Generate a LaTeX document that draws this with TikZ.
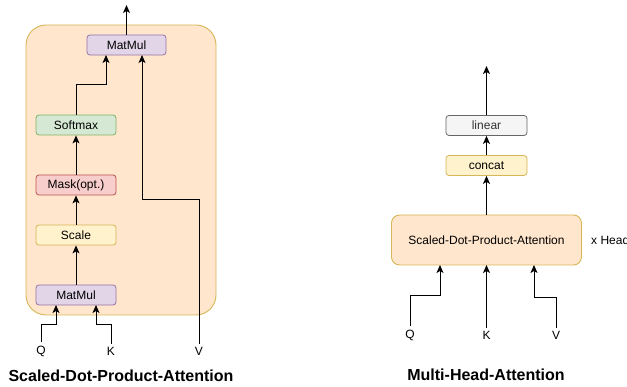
\documentclass[tikz,border=0pt]{standalone}
\usepackage{fontspec}
\setmainfont{Liberation Sans}
\usetikzlibrary{arrows.meta}

\definecolor{purpleFill}{HTML}{E1D5E7}
\definecolor{purpleLine}{HTML}{9673A6}
\definecolor{greenFill}{HTML}{D5E8D4}
\definecolor{greenLine}{HTML}{82B366}
\definecolor{redFill}{HTML}{F8CECC}
\definecolor{redLine}{HTML}{B85450}
\definecolor{yellowFill}{HTML}{FFF2CC}
\definecolor{yellowLine}{HTML}{D6B656}
\definecolor{orangeFill}{HTML}{FFE6CC}
\definecolor{orangeLine}{HTML}{D79B00}
\definecolor{grayFill}{HTML}{F5F5F5}
\definecolor{grayLine}{HTML}{666666}
\definecolor{grayText}{HTML}{333333}

\tikzset{
  opbox/.style={draw, rounded corners=3pt, line width=0.8pt,
    minimum width=80pt, minimum height=20pt, inner sep=0pt,
    font=\fontsize{12}{14}\selectfont},
  matmulbox/.style={opbox, fill=purpleFill, draw=purpleLine},
  softbox/.style={opbox, fill=greenFill, draw=greenLine},
  maskbox/.style={opbox, fill=redFill, draw=redLine},
  scalebox/.style={opbox, fill=yellowFill, draw=yellowLine},
  linbox/.style={opbox, fill=grayFill, draw=grayLine, text=grayText},
  lbl/.style={font=\fontsize{12}{14}\selectfont, inner sep=0pt},
  ttl/.style={font=\fontsize{16}{18}\selectfont\bfseries, inner sep=0pt},
  flow/.style={line width=1pt, -{Stealth[length=8pt,width=7pt,inset=2pt]}},
}

\begin{document}
\begin{tikzpicture}[x=1pt,y=-1pt]
\useasboundingbox (0,0) rectangle (627,387);

% ---- Scaled-Dot-Product-Attention ----
\node[draw=yellowLine, fill=orangeFill, line width=0.9pt, rounded corners=20pt,
      minimum width=190pt, minimum height=290pt, inner sep=0pt] (outer) at (121,170) {};

\node[matmulbox, minimum width=79pt] (mm2) at (126.5,45) {MatMul};
\node[softbox] (soft) at (76,125) {Softmax};
\node[maskbox] (mask) at (76,185) {Mask(opt.)};
\node[scalebox] (scale) at (76,235) {Scale};
\node[matmulbox] (mm1) at (76,295) {MatMul};

\node[lbl] (q1) at (41,351) {Q};
\node[lbl] (k1) at (111,351) {K};
\node[lbl] (v1) at (199,351) {V};
\coordinate (out1) at (126.5,5);

% inputs start just above their labels
\draw[flow] ([yshift=3pt]q1.north) |- (56,325) -- (56,305);
\draw[flow] ([yshift=3pt]k1.north) |- (96,325) -- (96,305);
\draw[flow] (mm1) -- (scale);
\draw[flow] (scale) -- (mask);
\draw[flow] (mask) -- (soft);
\draw[flow] (soft.north) |- (106,85) -- (106,55);
\draw[flow] ([yshift=3pt]v1.north) |- (142,200) -- (142,55);
\draw[flow] (mm2) -- (out1);

\node[ttl] (t1) at (121,376) {Scaled-Dot-Product-Attention};

% ---- Multi-Head-Attention ----
\node[draw=yellowLine, fill=orangeFill, line width=0.9pt, rounded corners=8pt,
      minimum width=190pt, minimum height=50pt, inner sep=0pt,
      font=\fontsize{12}{14}\selectfont] (sdpa) at (486.5,240) {Scaled-Dot-Product-Attention};
\node[scalebox, minimum width=81pt] (concat) at (486.5,165.5) {concat};
\node[linbox, minimum width=81pt] (linear) at (486.5,125.5) {linear};
\coordinate (out2) at (486.5,66);

\node[lbl, anchor=west] (heads) at (591,240) {x Head};

\node[lbl] (q2) at (410,335) {Q};
\node[lbl] (k2) at (486.5,335) {K};
\node[lbl] (v2) at (556,335) {V};

\draw[flow] ([yshift=3pt]q2.north) |- (440,296) -- (440,265);
\draw[flow] ([yshift=3pt]k2.north) -- (486.5,265);
\draw[flow] ([yshift=3pt]v2.north) |- (534,298) -- (534,265);
\draw[flow] (sdpa) -- (concat);
\draw[flow] (concat) -- (linear);
\draw[flow] (linear) -- (out2);

\node[ttl] (t2) at (486,375) {Multi-Head-Attention};
\end{tikzpicture}
\end{document}
